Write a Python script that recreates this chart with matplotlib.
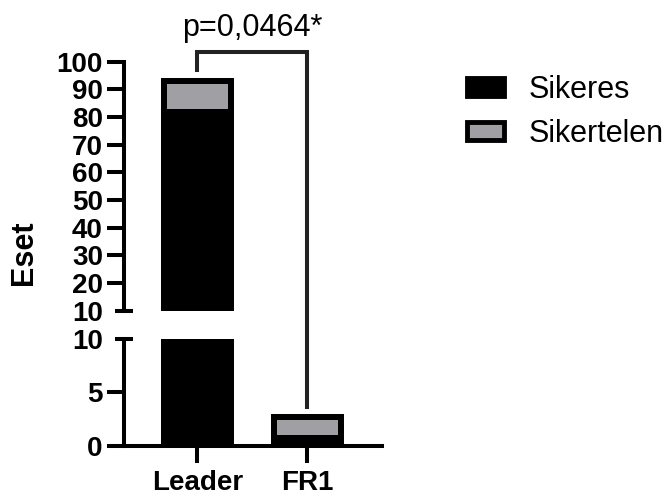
import numpy as np
import matplotlib
matplotlib.use('Agg')
import matplotlib.pyplot as plt
from matplotlib.patches import Patch

plt.rcParams['font.family'] = ['Liberation Sans', 'DejaVu Sans']

# adatok
groups = ['Leader', 'FR1']
sikeres = [83, 1]
sikertelen = [11, 2]
labels = ['Sikeres', 'Sikertelen']
p_text = 'p=0,0464*'
top_ticks = [10, 20, 30, 40, 50, 60, 70, 80, 90, 100]
bot_ticks = [0, 5, 10]

W, H = 671, 495
gray = '#a0a0a4'
lw_axis = 2.9
border_px = 6.0
tick_len = 12

fig = plt.figure(figsize=(W / 100, H / 100), dpi=100)
left = 123.7 / W
width = (381.7 - 123.7) / W
ax_top = fig.add_axes([left, 1 - 310.7 / H, width, (310.7 - 61.7) / H])
ax_bot = fig.add_axes([left, 1 - 445.5 / H, width, (445.5 - 339.0) / H])

x = np.arange(len(groups))
totals = np.array(sikeres) + np.array(sikertelen)
bw = 0.666


def draw_bars(ax):
    ax.bar(x, sikeres, bw, color='black', linewidth=0)
    ax.bar(x, sikertelen, bw, bottom=sikeres, color=gray, linewidth=0)
    # keret a belso oldalon (onmagara vagva)
    outl = ax.bar(x, totals, bw, fill=False, edgecolor='black',
                  linewidth=2 * border_px * 0.72)
    for p in outl:
        p.set_clip_path(p.get_path(), p.get_transform())


for ax in (ax_top, ax_bot):
    draw_bars(ax)
    ax.set_xlim(-0.67, 1.676)
    for s in ('top', 'right'):
        ax.spines[s].set_visible(False)
    ax.spines['left'].set_linewidth(lw_axis)
    ax.spines['bottom'].set_linewidth(lw_axis)
    ax.tick_params(axis='y', length=tick_len, width=lw_axis, pad=3,
                   labelsize=20)
    ax.tick_params(axis='x', length=tick_len, width=lw_axis, pad=6,
                   labelsize=20)
    ax.patch.set_visible(False)

ax_top.set_ylim(10, 100)
ax_top.set_yticks(top_ticks)
ax_top.spines['bottom'].set_visible(False)
ax_top.set_xticks([])
ax_bot.set_ylim(0, 10)
ax_bot.set_yticks(bot_ticks)
ax_bot.set_xticks(x)
ax_bot.set_xticklabels(groups)

for ax in (ax_top, ax_bot):
    for lab in ax.get_yticklabels() + ax.get_xticklabels():
        lab.set_fontweight('bold')

# torespont jelolok
ax_top.yaxis.get_major_ticks()[0].tick1line.set_visible(False)
ax_bot.yaxis.get_major_ticks()[-1].tick1line.set_visible(False)
ax_top.plot([-0.67], [10], marker='_', ms=13, mew=lw_axis, color='black',
            clip_on=False)
ax_bot.plot([-0.67], [10], marker='_', ms=13, mew=lw_axis, color='black',
            clip_on=False)

# szignifikancia
y_left, y_top = 97, 103.5
y_right_bot = 3.6
pr = ax_bot.transData.transform((1, y_right_bot))
y_right = ax_top.transData.inverted().transform(pr)[1]
ax_top.plot([0, 0, 1, 1], [y_left, y_top, y_top, y_right], color='#222222',
            lw=2.9, clip_on=False, solid_joinstyle='miter')
ax_top.text(0.5, 109.3, p_text, ha='center', va='baseline', fontsize=22,
            clip_on=False)

fig.text(24 / W, 1 - 252.5 / H, 'Eset', rotation=90, ha='center',
         va='center', fontsize=22, fontweight='bold')

handles = [Patch(facecolor='black', edgecolor='black', linewidth=3.5),
           Patch(facecolor=gray, edgecolor='black', linewidth=3.5)]
fig.legend(handles, labels, loc='upper left',
           bbox_to_anchor=(467 / W, 1 - 75 / H), frameon=False, fontsize=22,
           handlelength=1.2, handleheight=0.55, handletextpad=0.8,
           labelspacing=0.45, borderpad=0, borderaxespad=0)

fig.savefig('out.png', dpi=100)
